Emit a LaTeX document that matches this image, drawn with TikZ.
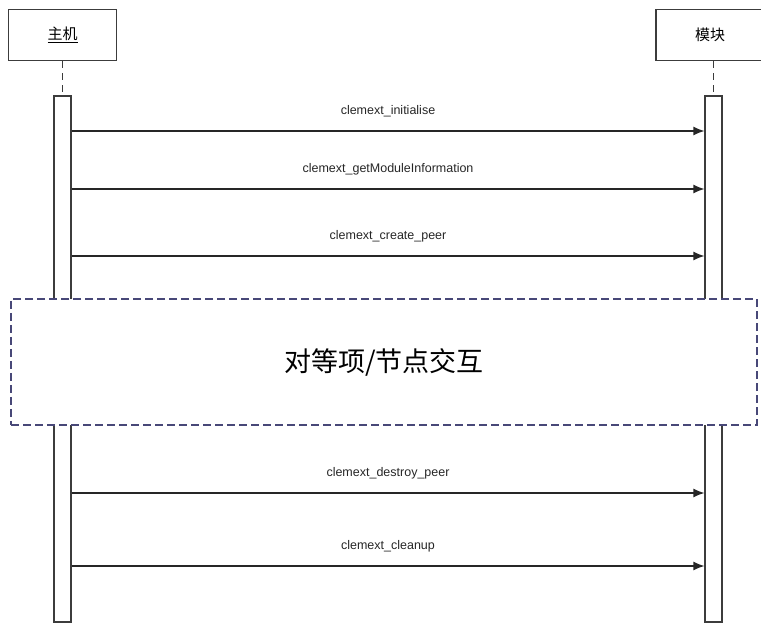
\documentclass[tikz,border=0pt]{standalone}
\usepackage{fontspec}
\setmainfont{Liberation Sans}
\newfontfamily\cjk{Noto Sans CJK SC}
\usetikzlibrary{positioning}
\usetikzlibrary{arrows.meta}
\definecolor{ln}{RGB}{60, 60, 60}
\definecolor{fr}{RGB}{72, 72, 120}
\tikzset{
  obj/.style={rectangle, draw=ln, line width=1.2pt, minimum width=108pt, minimum height=51pt, inner sep=0pt, font=\cjk\fontsize{15}{15}\selectfont},
  bar/.style={rectangle, draw=ln, fill=white, line width=1.2pt, minimum width=17pt, minimum height=526pt, inner sep=0pt},
  life/.style={draw=ln, line width=1.4pt, dash pattern=on 7pt off 5pt},
  msg/.style={draw=black!85, line width=1.2pt, -{Latex[length=11pt, width=9pt]}},
  lbl/.style={above=10pt, midway, font=\fontsize{12.5}{12.5}\selectfont, text=black!85},
  frame/.style={draw=fr, fill=white, line width=1.4pt, dash pattern=on 8pt off 4pt}
}

\begin{document}
\begin{tikzpicture}[x=1pt, y=1pt]
\useasboundingbox (0, 0) rectangle (761, -623);
% objects
\node (host) [obj] at (62.5, -35) {\underline{主机}};
\node (mod) [obj] at (710, -35) {模块};
% activation bars
\node (hostbar) [bar] at (62.5, -359) {};
\node (modbar) [bar] at (713.5, -359) {};
\draw [life] (host) to (hostbar);
\draw [life] (modbar.north |- mod.south) to (modbar);
% message heights
\coordinate (m1) at (0, -131);
\coordinate (m2) at (0, -189);
\coordinate (m3) at (0, -256);
\coordinate (m4) at (0, -493);
\coordinate (m5) at (0, -566);
\draw [msg] (hostbar.east |- m1) to node [lbl] {clemext\_initialise} (modbar.west |- m1);
\draw [msg] (hostbar.east |- m2) to node [lbl] {clemext\_getModuleInformation} (modbar.west |- m2);
\draw [msg] (hostbar.east |- m3) to node [lbl] {clemext\_create\_peer} (modbar.west |- m3);
\draw [msg] (hostbar.east |- m4) to node [lbl] {clemext\_destroy\_peer} (modbar.west |- m4);
\draw [msg] (hostbar.east |- m5) to node [lbl] {clemext\_cleanup} (modbar.west |- m5);
% interaction frame
\node (peers) [frame, rectangle, minimum width=746pt, minimum height=126pt, inner sep=0pt, font=\cjk\fontsize{27}{27}\selectfont] at (384, -362) {对等项/节点交互};
\end{tikzpicture}
\end{document}
